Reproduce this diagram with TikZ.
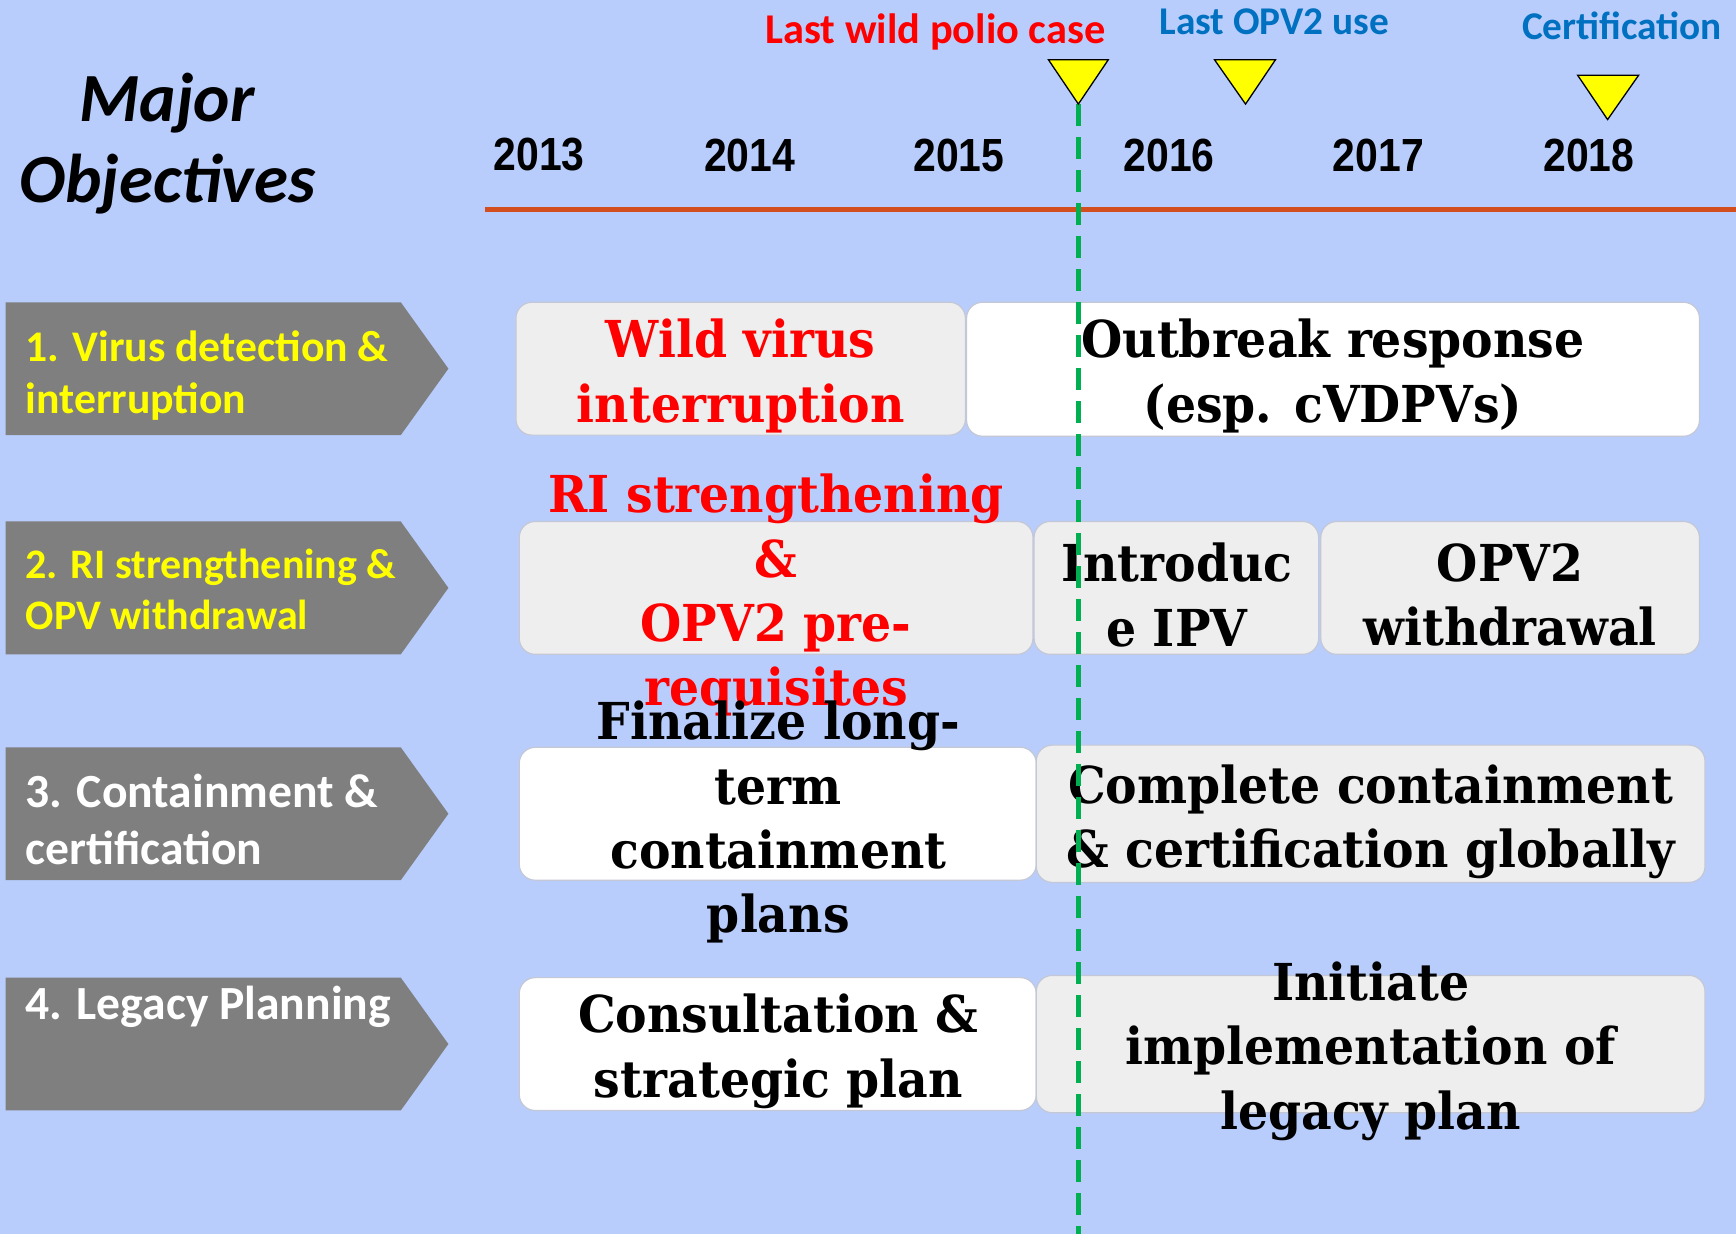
\documentclass[tikz,border=0pt]{standalone}
\usepackage{fontspec}
\setmainfont{Carlito}
\newfontfamily\calfont{Carlito}
\newfontfamily\yearfont[FakeStretch=0.88]{Liberation Sans}
\newfontfamily\slabfont[FakeStretch=0.93]{DejaVu Serif}
\definecolor{bgblue}{RGB}{184,205,252}
\definecolor{arrowgray}{RGB}{127,127,127}
\definecolor{boxgray}{RGB}{238,238,238}
\definecolor{boxline}{RGB}{196,200,214}
\definecolor{lineorange}{RGB}{210,78,30}
\definecolor{dashgreen}{RGB}{0,176,80}
\definecolor{labelblue}{RGB}{0,112,192}
\definecolor{labelred}{RGB}{255,0,0}
\definecolor{labelyellow}{RGB}{255,255,0}
\begin{document}
\begin{tikzpicture}[x=1.1071pt,y=-1.1071pt,
  boxtxt/.style={font=\slabfont\bfseries\fontsize{50.9pt}{64.2pt}\selectfont, align=center, inner sep=0pt},
  pbox/.style={draw=boxline, line width=1.2pt, rounded corners=16pt},
  objarrow/.style={fill=arrowgray},
  objlabel/.style={font=\calfont\bfseries\fontsize{43.7pt}{52pt}\selectfont, align=left, anchor=west, inner sep=0pt},
  objlabelbig/.style={font=\calfont\bfseries\fontsize{47.6pt}{57.6pt}\selectfont, align=left, anchor=west, inner sep=0pt},
  yearlbl/.style={font=\yearfont\bfseries\fontsize{46.5pt}{50pt}\selectfont, inner sep=0pt},
  milestone/.style={font=\calfont\bfseries\fontsize{42.4pt}{44pt}\selectfont, inner sep=0pt},
  marker/.style={fill=labelyellow, draw=black, line width=1.3pt, line join=miter}
]
% background / bounding box
\fill[bgblue] (0,0) rectangle (1568,1115);
\useasboundingbox (0,0) rectangle (1568,1115);

% title
\node[font=\calfont\bfseries\itshape\fontsize{69pt}{80.8pt}\selectfont, align=center, inner sep=0pt] (title) at (151,130) {Major\\Objectives};

% milestone labels
\node[milestone, text=labelred] (lastwild) at (845,29) {Last wild polio case};
\node[milestone, text=labelblue, font=\calfont\bfseries\fontsize{39.3pt}{44pt}\selectfont] (lastopv) at (1151,20) {Last OPV2 use};
\node[milestone, text=labelblue, font=\calfont\bfseries\fontsize{39.3pt}{44pt}\selectfont] (cert) at (1465,23) {Certification};

% years
\node[yearlbl] (y2013) at (487,140) {2013};
\node[yearlbl] (y2014) at (677,140) {2014};
\node[yearlbl] (y2015) at (866,140) {2015};
\node[yearlbl] (y2016) at (1056,140) {2016};
\node[yearlbl] (y2017) at (1245,140) {2017};
\node[yearlbl] (y2018) at (1435,140) {2018};

% timeline axis
\coordinate (axisL) at (438,189);
\coordinate (axisR) at (1568,189);
\draw[lineorange, line width=5pt] (axisL) -- (axisR);

% objective arrows
\fill[objarrow] (5,273) -- (362,273) -- (405,333) -- (362,393) -- (5,393) -- cycle;
\fill[objarrow] (5,471) -- (362,471) -- (405,531) -- (362,591) -- (5,591) -- cycle;
\fill[objarrow] (5,675) -- (362,675) -- (405,735) -- (362,795) -- (5,795) -- cycle;
\fill[objarrow] (5,883) -- (362,883) -- (405,943) -- (362,1003) -- (5,1003) -- cycle;

\node[objlabel, text=labelyellow] (obj1) at (23,339) {1. Virus detection \&\\interruption};
\node[objlabel, text=labelyellow, font=\calfont\bfseries\fontsize{42pt}{51pt}\selectfont] (obj2) at (23,532) {2. RI strengthening \&\\OPV withdrawal};
\node[objlabelbig, text=white] (obj3) at (23,740) {3. Containment \&\\certification};
\node[objlabelbig, text=white] (obj4) at (23,909) {4. Legacy Planning};

% row 1
\draw[pbox, fill=boxgray] (466,273) rectangle (872,393);
\draw[pbox, fill=white] (873,273) rectangle (1535,394);
% row 2
\draw[pbox, fill=boxgray] (469,471) rectangle (933,591);
\draw[pbox, fill=boxgray] (934,471) rectangle (1191,591);
\draw[pbox, fill=boxgray] (1193,471) rectangle (1535,591);
% row 3
\draw[pbox, fill=white] (469,675) rectangle (936,795);
\draw[pbox, fill=boxgray] (936,673) rectangle (1540,797);
% row 4
\draw[pbox, fill=white] (469,883) rectangle (936,1003);
\draw[pbox, fill=boxgray] (936,881) rectangle (1540,1005);

% box texts
\node[boxtxt, text=labelred] (wild) at (669,339.5) {Wild virus\\interruption};
\node[boxtxt] (outbreak) at (1204,339.5) {Outbreak response\\(esp. cVDPVs)};
\node[boxtxt, text=labelred] (ristr) at (701,537.5) {RI strengthening\\\&\\OPV2 pre-\\requisites};
\node[boxtxt] (ipv) at (1063,537.5) {Introduc\\e IPV};
\node[boxtxt] (opvw) at (1364,537.5) {OPV2\\withdrawal};
\node[boxtxt] (finalize) at (703,742.5) {Finalize long-\\term\\containment\\plans};
\node[boxtxt] (complete) at (1238,742.5) {Complete containment\\\& certification globally};
\node[boxtxt] (consult) at (703,949.5) {Consultation \&\\strategic plan};
\node[boxtxt] (initiate) at (1238,949.5) {Initiate\\implementation of\\legacy plan};

% green dashed line
\coordinate (dashtop) at (974,94);
\coordinate (dashbot) at (974,1115);
\draw[dashgreen, line width=4.5pt, dash pattern=on 22pt off 11pt] (dashtop) -- (dashbot);

% markers
\draw[marker] (947,54) -- (1001,54) -- (974,94) -- cycle;
\draw[marker] (1097,54) -- (1152,54) -- (1125,94) -- cycle;
\draw[marker] (1425,68) -- (1480,68) -- (1452,108) -- cycle;
\end{tikzpicture}
\end{document}
